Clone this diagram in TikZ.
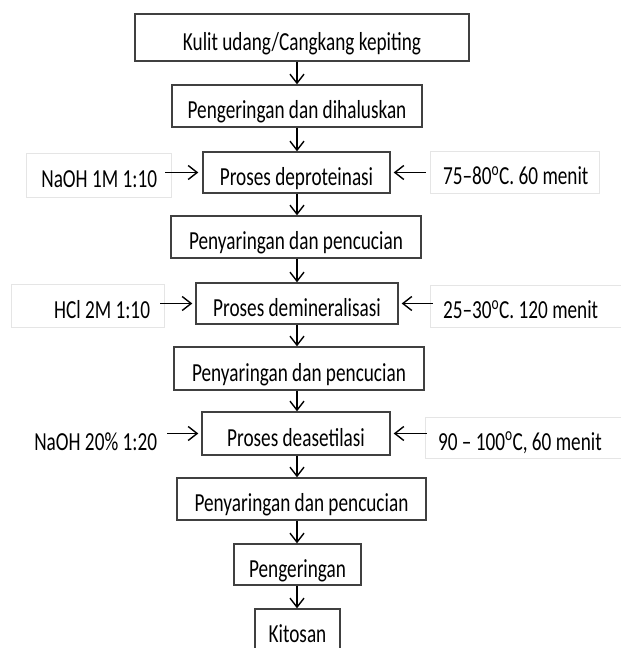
\documentclass[tikz,border=0pt]{standalone}
\usepackage{fontspec}
\setmainfont{Carlito}[FakeStretch=0.74]
\usetikzlibrary{arrows.meta}

\begin{document}
\begin{tikzpicture}[x=1pt,y=-1pt,>={Straight Barb[length=9pt,width=14pt]},
  font=\fontsize{26}{30}\selectfont\frenchspacing,
  langkah/.style={draw=black!75,line width=1.4pt,inner sep=0pt,text height=25pt,text depth=0pt},
  kiri/.style={text width=#1,align=flush right,inner xsep=4pt,inner ysep=0pt,text height=25pt,text depth=0pt},
  kanan/.style={text width=#1,align=flush left,inner xsep=4pt,inner ysep=0pt,text height=25pt,text depth=0pt},
  bingkai/.style={draw=black!10,line width=0.8pt},
  panah/.style={->,line width=1.4pt}]
\clip (0,0) rectangle (621,648);
\fill[white] (0,0) rectangle (621,648);
\coordinate (sumbu) at (297,0);
% alur utama
\node[langkah,minimum width=334pt,minimum height=47pt] (kulit) at (302,37.5) {Kulit udang/Cangkang kepiting};
\node[langkah,minimum width=250pt,minimum height=42pt] (kering) at (297,106) {Pengeringan dan dihaluskan};
\node[langkah,minimum width=187pt,minimum height=41pt] (deprot) at (296.5,172.5) {Proses deproteinasi};
\node[langkah,minimum width=250pt,minimum height=42pt] (saringA) at (296,237) {Penyaringan dan pencucian};
\node[langkah,minimum width=202pt,minimum height=41pt] (demin) at (297,303.5) {Proses demineralisasi};
\node[langkah,minimum width=250pt,minimum height=43pt] (saringB) at (299,368.5) {Penyaringan dan pencucian};
\node[langkah,minimum width=188pt,minimum height=43pt] (deaset) at (296,433.5) {Proses deasetilasi};
\node[langkah,minimum width=249pt,minimum height=42pt] (saringC) at (301.5,499) {Penyaringan dan pencucian};
\node[langkah,minimum width=127pt,minimum height=41pt] (keringB) at (297.5,564.5) {Pengeringan};
\node[langkah,minimum width=85pt,minimum height=42pt] (kitosan) at (297.5,630) {Kitosan};
% bahan dan kondisi
\node[kiri=137pt,bingkai,minimum height=44pt] (naohA) at (98.5,175) {NaOH 1M 1:10\makebox[10pt]{}};
\node[kanan=161pt,bingkai,minimum height=42pt] (suhuA) at (514.5,172) {\makebox[9pt]{}75--80\textsuperscript{o}C. 60 menit};
\node[kiri=145pt,bingkai,minimum height=43pt] (hcl) at (87.5,305.5) {HCl 2M 1:10\makebox[10pt]{}};
\node[kanan=188pt,bingkai,minimum height=42pt] (suhuB) at (528,306) {\makebox[9pt]{}25--30\textsuperscript{o}C. 120 menit};
\node[kiri=137pt,minimum height=42pt] (naohB) at (98.5,438) {NaOH 20\% 1:20\makebox[10pt]{}};
\node[kanan=192pt,bingkai,minimum height=41pt] (suhuC) at (525,437.5) {\makebox[9pt]{}90 -- 100\textsuperscript{o}C, 60 menit};
% panah
\foreach \a/\b in {kulit/kering,kering/deprot,deprot/saringA,saringA/demin,demin/saringB,
  saringB/deaset,deaset/saringC,saringC/keringB,keringB/kitosan}
  \draw[panah] (\a.south -| sumbu) -- (\b.north -| sumbu);
\draw[panah,shorten >=4pt] ([xshift=-6pt]naohA.east |- deprot) -- (deprot.west);
\draw[panah,shorten >=3pt] ([xshift=-4pt]suhuA.west |- deprot) -- (deprot.east);
\draw[panah,shorten >=3pt] ([xshift=-4pt]hcl.east |- demin) -- (demin.west);
\draw[panah,shorten >=3pt] ([xshift=3pt]suhuB.west |- demin) -- (demin.east);
\draw[panah,shorten >=3pt] ([xshift=-4pt]naohB.east |- deaset) -- (deaset.west);
\draw[panah,shorten >=3pt] ([xshift=2pt]suhuC.west |- deaset) -- (deaset.east);
\end{tikzpicture}
\end{document}
